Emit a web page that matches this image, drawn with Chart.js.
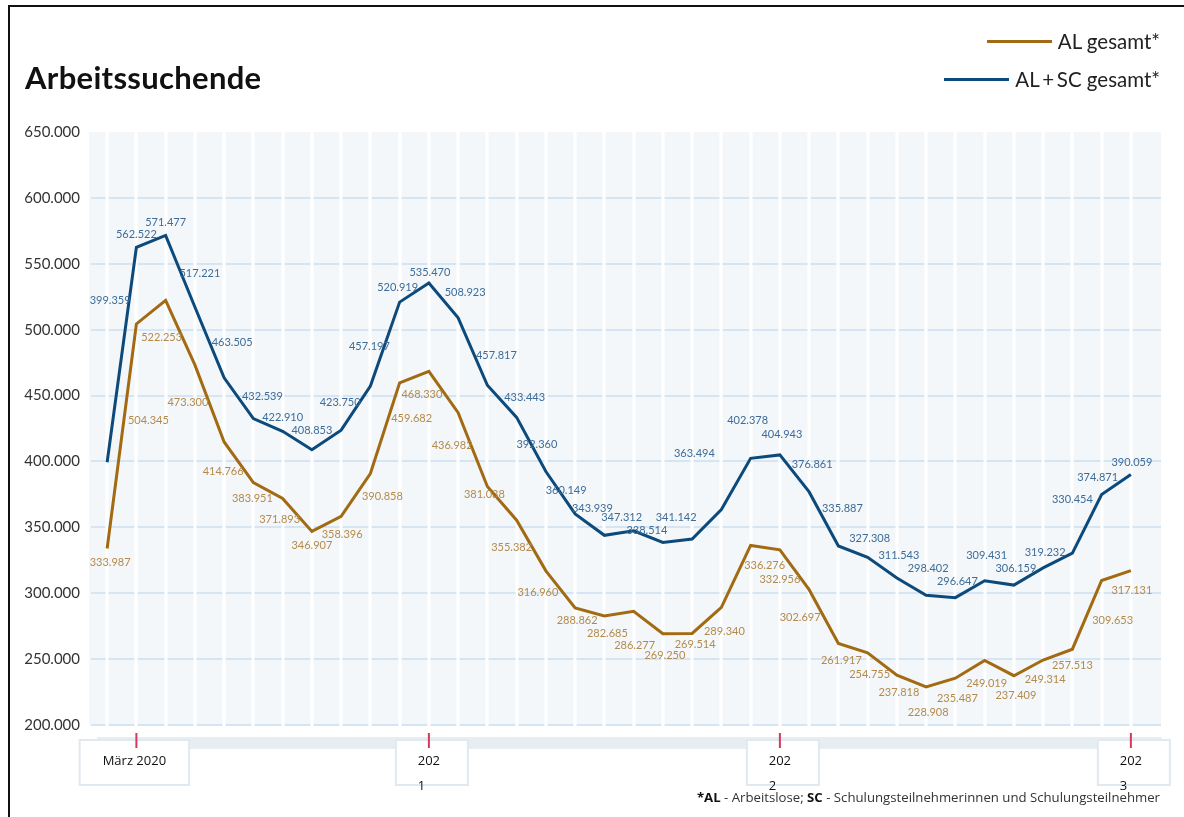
<!DOCTYPE html>
<html lang="de">
<head>
<meta charset="utf-8">
<title>Arbeitssuchende</title>
<script src="https://cdn.jsdelivr.net/npm/chart.js@4/dist/chart.umd.min.js"></script>
<style>
  html, body { margin: 0; padding: 0; background: #fff; }
  #wrap { position: relative; width: 1184px; height: 817px; overflow: hidden; }
  #chart { position: absolute; left: 0; top: 0; }
  .frameTop { position: absolute; left: 8px; top: 5px; width: 1176px; height: 2px; background: #111; }
  .frameLeft { position: absolute; left: 8px; top: 5px; width: 2px; height: 812px; background: #111; }
  h1 { position: absolute; left: 25px; top: 58px; margin: 0; font: bold 31px Lato, "Noto Sans", sans-serif; color: #111; letter-spacing: 0.3px; }
  .legend { position: absolute; right: 24px; font: 20.5px Lato, "Noto Sans", sans-serif; color: #222; display: flex; align-items: center; }
  .legend span.line { display: inline-block; width: 65px; height: 3px; margin-right: 6px; }
  .note { position: absolute; right: 24px; top: 788px; font: 13.2px "Open Sans", sans-serif; color: #333; white-space: nowrap; }
  .note b { color: #111; }
</style>
</head>
<body>
<div id="wrap">
  <canvas id="chart" width="1184" height="817"></canvas>
  <div class="frameTop"></div>
  <div class="frameLeft"></div>
  <h1>Arbeitssuchende</h1>
  <div class="legend" style="top:29px"><span class="line" style="background:#a26a12"></span>AL gesamt*</div>
  <div class="legend" style="top:67px"><span class="line" style="background:#0d4a7c"></span>AL&thinsp;+&thinsp;SC gesamt*</div>
  <div class="note"><b>*AL</b> - Arbeitslose; <b>SC</b> - Schulungsteilnehmerinnen und Schulungsteilnehmer</div>
</div>
<script>
// Monate Feb 2020 - Jan 2023
var months = ['02/2020','03/2020','04/2020','05/2020','06/2020','07/2020','08/2020','09/2020','10/2020','11/2020','12/2020',
  '01/2021','02/2021','03/2021','04/2021','05/2021','06/2021','07/2021','08/2021','09/2021','10/2021','11/2021','12/2021',
  '01/2022','02/2022','03/2022','04/2022','05/2022','06/2022','07/2022','08/2022','09/2022','10/2022','11/2022','12/2022',
  '01/2023'];

// AL + SC gesamt
var alScGesamt = [399359, 562522, 571477, 517221, 463505, 432539, 422910, 408853, 423750, 457197, 520919,
  535470, 508923, 457817, 433443, 392360, 360149, 343939, 347312, 338514, 341142, 363494, 402378,
  404943, 376861, 335887, 327308, 311543, 298402, 296647, 309431, 306159, 319232, 330454, 374871,
  390059];

// AL gesamt
var alGesamt = [333987, 504345, 522253, 473300, 414766, 383951, 371893, 346907, 358396, 390858, 459682,
  468330, 436982, 381038, 355382, 316960, 288862, 282685, 286277, 269250, 269514, 289340, 336276,
  332956, 302697, 261917, 254755, 237818, 228908, 235487, 249019, 237409, 249314, 257513, 309653,
  317131];

// Achsenbeschriftung (Index -> Zeilen)
var xTickIdx = [1, 11, 23, 35];
var xTickText = [['März 2020'], ['202', '1'], ['202', '2'], ['202', '3']];
var yTicks = [200000, 250000, 300000, 350000, 400000, 450000, 500000, 550000, 600000, 650000];

// Versatz der Wertebeschriftungen [dx, dy] in px
var offBlue = [[3,-162],[0,-13],[0,-13],[5,-34],[8,-35],[9,-22],[0,-14],[0,-19],[-1,-28],[-1,-40],[-2,-15],
  [1,-10],[7,-25],[9,-30],[8,-20],[-9,-27],[-9,-24],[-12,-27],[-12,-13],[-16,-12],[-16,-22],[-27,-56],[-3,-38],
  [2,-20],[3,-27],[4,-37],[2,-19],[2,-23],[2,-27],[2,-16],[2,-25],[2,-17],[2,-15],[0,-54],[-4,-17],[1,-12]];
var offBrown = [[3,14],[12,97],[-4,37],[-7,38],[-1,29],[-1,16],[-3,21],[0,14],[1,18],[12,23],[12,36],
  [-7,23],[-6,33],[-3,8],[-5,27],[-8,22],[2,13],[3,17],[1,34],[2,22],[3,11],[3,24],[14,20],
  [0,30],[-9,28],[3,17],[2,22],[2,17],[2,26],[2,20],[2,23],[2,20],[2,19],[0,16],[11,40],[1,20]];

function fmt(v) {
  return String(Math.round(v)).replace(/\B(?=(\d{3})+(?!\d))/g, '.');
}

function toPoints(arr) {
  return arr.map(function (v, i) { return { x: i, y: v }; });
}

// Hintergrund mit Rasterlinien
var backdrop = {
  id: 'backdrop',
  beforeDatasetsDraw: function (chart) {
    var ctx = chart.ctx, a = chart.chartArea;
    var xs = chart.scales.x, ys = chart.scales.y;
    ctx.save();
    ctx.fillStyle = '#f3f7f9';
    ctx.fillRect(a.left, a.top, a.right - a.left, a.bottom - a.top);
    ctx.strokeStyle = '#d6e5f3';
    ctx.lineWidth = 2;
    yTicks.forEach(function (t) {
      if (t >= ys.max) return;
      var y = Math.round(ys.getPixelForValue(t));
      ctx.beginPath();
      ctx.moveTo(a.left + 2, y);
      ctx.lineTo(a.right, y);
      ctx.stroke();
    });
    ctx.strokeStyle = '#ffffff';
    ctx.lineWidth = 3;
    months.forEach(function (m, i) {
      var x = Math.round(xs.getPixelForValue(i));
      ctx.beginPath();
      ctx.moveTo(x, a.top);
      ctx.lineTo(x, a.bottom + 1);
      ctx.stroke();
    });
    ctx.restore();
  }
};

// Wertebeschriftungen
var valueLabels = {
  id: 'valueLabels',
  afterDatasetsDraw: function (chart) {
    var ctx = chart.ctx;
    ctx.save();
    ctx.font = '11px Lato, "Noto Sans", sans-serif';
    ctx.textAlign = 'center';
    ctx.textBaseline = 'middle';
    chart.data.datasets.forEach(function (ds, di) {
      var meta = chart.getDatasetMeta(di);
      var offs = ds.labelOffsets;
      ctx.fillStyle = ds.labelColor;
      meta.data.forEach(function (pt, i) {
        var o = offs[i];
        ctx.fillText(fmt(ds.data[i].y), pt.x + o[0], pt.y + o[1]);
      });
    });
    ctx.restore();
  }
};

// x-Achse: Band, Kästchen, rote Striche, Text
var axisBoxes = {
  id: 'axisBoxes',
  afterDraw: function (chart) {
    var ctx = chart.ctx, a = chart.chartArea, xs = chart.scales.x;
    ctx.save();
    ctx.fillStyle = '#e6eef4';
    ctx.fillRect(a.left + 8, a.bottom + 12, a.right - a.left - 7, 12);
    xTickIdx.forEach(function (idx, k) {
      var x = xs.getPixelForValue(idx);
      var lines = xTickText[k];
      ctx.font = '13px "Open Sans", sans-serif';
      var w = Math.max.apply(null, lines.map(function (l) { return ctx.measureText(l).width; }));
      var bw = lines.length > 1 ? 72 : w + 46;
      var bx = x - bw / 2 + (lines.length > 1 ? 3 : -2);
      ctx.fillStyle = '#ffffff';
      ctx.fillRect(bx, a.bottom + 15, bw, 45);
      ctx.strokeStyle = '#e0e9f0';
      ctx.lineWidth = 2;
      ctx.strokeRect(bx, a.bottom + 15, bw, 45);
      ctx.strokeStyle = '#d8365b';
      ctx.lineWidth = 2;
      ctx.beginPath();
      ctx.moveTo(x, a.bottom + 8);
      ctx.lineTo(x, a.bottom + 23);
      ctx.stroke();
      ctx.fillStyle = '#111';
      ctx.textBaseline = 'middle';
      if (lines.length > 1) {
        ctx.textAlign = 'left';
        var lx = x - ctx.measureText(lines[0]).width / 2;
        lines.forEach(function (l, j) { ctx.fillText(l, lx, a.bottom + 36 + j * 25); });
      } else {
        ctx.textAlign = 'center';
        ctx.fillText(lines[0], x - 2, a.bottom + 36);
      }
    });
    ctx.restore();
  }
};

var ctx = document.getElementById('chart').getContext('2d');
window.myChart = new Chart(ctx, {
  type: 'line',
  data: {
    datasets: [
      {
        label: 'AL gesamt*',
        data: toPoints(alGesamt),
        borderColor: '#a26a12',
        borderWidth: 3,
        pointRadius: 0,
        tension: 0,
        labelColor: '#b48a4c',
        labelOffsets: offBrown
      },
      {
        label: 'AL+SC gesamt*',
        data: toPoints(alScGesamt),
        borderColor: '#0d4a7c',
        borderWidth: 3,
        pointRadius: 0,
        tension: 0,
        labelColor: '#3e6c98',
        labelOffsets: offBlue
      }
    ]
  },
  options: {
    responsive: false,
    animation: false,
    events: [],
    layout: { padding: { top: 132, right: 23, bottom: 0, left: 0 } },
    plugins: { legend: { display: false }, tooltip: { enabled: false } },
    scales: {
      x: {
        type: 'linear',
        min: -0.62,
        max: 36.03,
        grid: { display: false },
        border: { display: false },
        ticks: { display: false },
        afterFit: function (scale) { scale.height = 92; }
      },
      y: {
        min: 200000,
        max: 650000,
        afterBuildTicks: function (scale) {
          scale.ticks = yTicks.map(function (v) { return { value: v }; });
        },
        grid: { display: false, drawTicks: false },
        border: { display: false },
        ticks: {
          padding: 9,
          color: '#333',
          font: { family: 'Lato, "Noto Sans", sans-serif', size: 15 },
          callback: function (v) { return fmt(v); }
        },
        afterFit: function (scale) { scale.width = 89; }
      }
    }
  },
  plugins: [backdrop, valueLabels, axisBoxes]
});
</script>
</body>
</html>
